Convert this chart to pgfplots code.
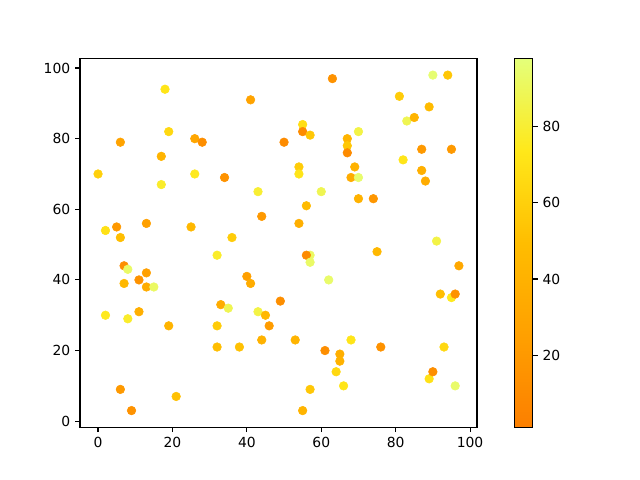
\documentclass[border=0pt]{standalone}
\usepackage{fontspec}
\setmainfont{DejaVu Sans}
\usepackage{pgfplots}
\usepackage{pgfplotstable}
\pgfplotsset{compat=1.18}

% points: x, y, colour value
\pgfplotstableread{
x y c
0 70 60
2 54 70
2 30 75
5 55 20
6 52 50
6 79 28
6 9 20
7 44 12
7 39 45
8 43 93
8 29 78
9 3 15
11 40 15
11 31 38
13 42 25
13 38 35
13 56 25
15 38 92
17 75 42
17 67 78
18 94 72
19 82 65
19 27 42
21 7 52
25 55 45
26 80 30
26 70 75
28 79 12
32 47 78
32 27 58
32 21 50
33 33 35
34 69 15
35 32 88
36 52 58
38 21 52
40 41 25
41 91 28
41 39 35
43 65 80
43 31 85
44 58 20
44 23 40
45 30 45
46 27 22
49 34 12
50 79 10
53 23 42
54 72 58
54 70 72
54 56 38
55 84 68
55 82 10
55 3 42
56 61 48
57 47 92
56 47 10
57 45 93
57 81 55
57 9 55
60 65 88
61 20 12
62 40 94
63 97 15
64 14 65
65 19 38
65 17 40
66 10 72
67 80 42
67 78 55
67 76 10
68 69 35
68 23 72
69 72 40
70 82 85
70 69 95
70 63 40
74 63 18
75 48 45
76 21 15
81 92 58
82 74 72
83 85 88
85 86 42
87 71 38
87 77 20
88 68 35
89 89 48
89 12 70
90 98 96
90 14 12
91 51 85
92 36 50
93 21 65
94 98 55
95 35 75
95 77 20
96 36 15
96 10 94
97 44 32
}\pts

\begin{document}
\begin{tikzpicture}
\path[use as bounding box] (0,0) rectangle (460.8pt,345.6pt);
\begin{axis}[
    at={(57.6pt,37.9pt)}, anchor=south west,
    scale only axis,
    width=285.8pt, height=265.7pt,
    xmin=-4.85, xmax=101.85,
    ymin=-1.75, ymax=102.75,
    xtick={0,20,40,60,80,100},
    ytick={0,20,40,60,80,100},
    tick align=outside, tick pos=left,
    major tick length=3.5pt,
    every tick/.style={black, line width=0.8pt},
    axis line style={line width=0.8pt},
    tick label style={font=\fontsize{10}{12}\selectfont},
    /pgf/number format/assume math mode=true,
    colormap={wistiar}{rgb255(0)=(252,127,0) rgb255(1)=(255,160,0) rgb255(2)=(255,189,0) rgb255(3)=(255,232,26) rgb255(4)=(228,255,122)},
    point meta min=1, point meta max=98,
    colorbar,
    colorbar style={
        at={(parent axis.north east)}, anchor=north west,
        xshift=18.7pt,
        scale only axis,
        width=13pt, height=265.7pt,
        ytick={20,40,60,80},
        yticklabel pos=right,
        ytick pos=right,
        tick align=outside,
        major tick length=3.5pt,
        every tick/.style={black, line width=0.8pt},
        axis line style={line width=0.8pt},
        tick label style={font=\fontsize{10}{12}\selectfont},
        /pgf/number format/assume math mode=true,
    },
]
\addplot[scatter, only marks, mark=*, mark size=3.1pt,
    scatter/use mapped color={draw=mapped color, fill=mapped color},
    point meta=explicit] table[x=x, y=y, meta=c] {\pts};
\end{axis}
\end{tikzpicture}
\end{document}
